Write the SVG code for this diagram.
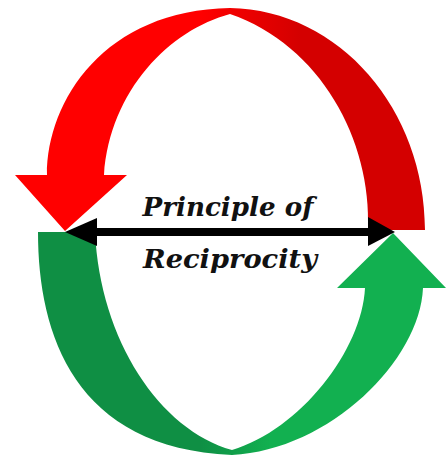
<svg xmlns="http://www.w3.org/2000/svg" width="446" height="458" viewBox="0 0 446 458">
<defs>
<linearGradient id="gRed" gradientUnits="userSpaceOnUse" x1="200" y1="0" x2="300" y2="0">
<stop offset="0" stop-color="#ff0000"/>
<stop offset="1" stop-color="#d40000"/>
</linearGradient>
<linearGradient id="gGreen" gradientUnits="userSpaceOnUse" x1="200" y1="0" x2="270" y2="0">
<stop offset="0" stop-color="#0f8f44"/>
<stop offset="1" stop-color="#12b050"/>
</linearGradient>
<style>
.lbl{font-family:"DejaVu Serif","Liberation Serif",serif;font-weight:bold;font-style:italic;font-size:26px;fill:#111;text-anchor:middle}
</style>
</defs>
<rect width="446" height="458" fill="#fff"/>
<g id="red-arrow">
<path fill="url(#gRed)" d="M47,175 C47,100 105,10 230,8 C340,10 425,110 425,230 L368,230 C372,140 320,45 230,14 C170,30 110,90 104,175 L127,175 L65,231 L15,175 Z"/>
</g>
<g id="green-arrow">
<path fill="url(#gGreen)" d="M38,232 L95,232 C100,340 160,430 232,450 C300,430 362,350 365,288 L337,288 L393,233 L446,288 L423,288 C420,360 330,450 232,455 C75,448 38,335 38,232 Z"/>
</g>
<g id="connectors">
<path d="M92,232 L372,232" stroke="#000" stroke-width="8" fill="none"/>
<path d="M65,232 L97,218 L97,246 Z" fill="#000"/>
<path d="M395,232 L368,217 L368,246 Z" fill="#000"/>
</g>
<g id="label">
<text class="lbl" x="228" y="216" textLength="171" lengthAdjust="spacingAndGlyphs">Principle of</text>
<text class="lbl" x="230" y="268" textLength="174" lengthAdjust="spacingAndGlyphs">Reciprocity</text>
</g>
</svg>
